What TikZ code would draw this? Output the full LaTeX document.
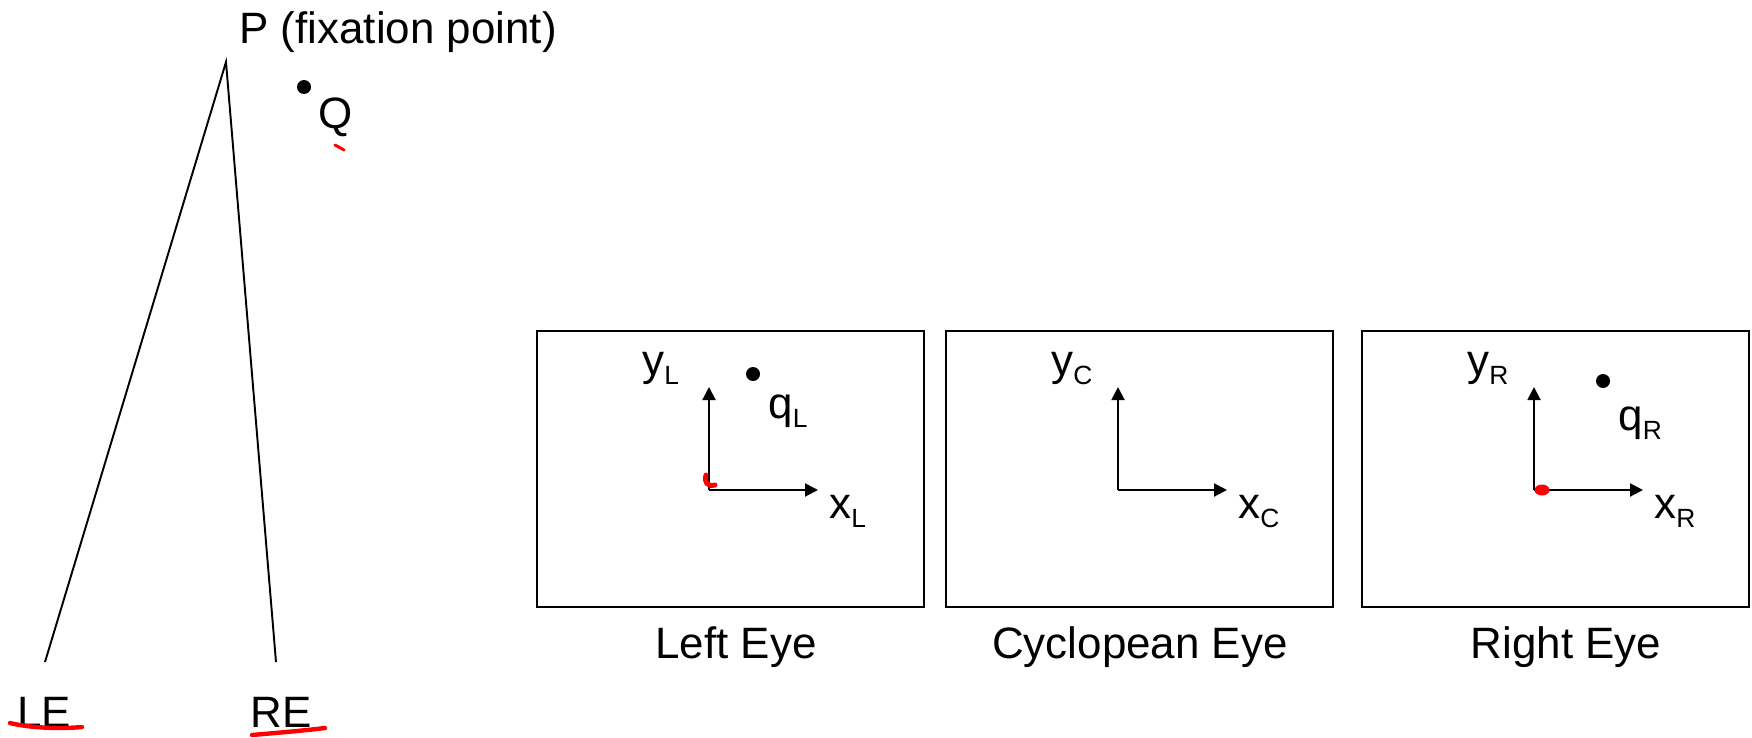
\documentclass[tikz,border=0pt]{standalone}
\usepackage{fontspec}
\setmainfont{Liberation Sans}
\usepackage{xcolor}
\usetikzlibrary{arrows.meta}

\newcommand{\lowsub}[1]{\raisebox{-5.5pt}{\fontsize{15}{17}\selectfont #1}}

\tikzset{
  lbl/.style={inner sep=0pt, anchor=base west, font=\fontsize{25}{30}\selectfont},
  eyename/.style={inner sep=0pt, anchor=base, font=\fontsize{25}{30}\selectfont},
  eyebox/.style={line width=1.1pt},
  axis/.style={line width=1.1pt, -{Triangle[length=7.4pt,width=7.4pt]}},
  scribble/.style={red, line width=2.5pt, line cap=round},
}

\begin{document}
\begin{tikzpicture}[x=0.2mm, y=-0.2mm]
    \useasboundingbox (0,0) rectangle (1752,737);

    % the two eyes looking at P
    \coordinate (apex) at (226,62);
    \coordinate (leEnd) at (45,662);
    \coordinate (reEnd) at (276,662);
    \draw[line width=1.1pt] (leEnd) -- (apex) -- (reEnd);

    \node[lbl] (fix) at (239,43) {P (fixation point)};
    \fill (304,87) circle (1.4mm) coordinate (ptQ);
    \node[lbl] (labQ) at (318,128) {Q};
    \node[lbl] (labLE) at (17,727) {LE};
    \node[lbl] (labRE) at (250,727) {RE};

    % image planes
    \foreach \bx/\s in {537/L,946/C,1362/R}{
        \draw[eyebox] (\bx,331) rectangle ++(387,276);
        \coordinate (o\s) at (\bx+172,490);
        \coordinate (ytip\s) at (\bx+172,387);
        \coordinate (xtip\s) at (\bx+281,490);
        \draw[axis] (o\s) -- (ytip\s);
        \draw[axis] (o\s) -- (xtip\s);
        \node[lbl] (ylab\s) at (\bx+105,375) {y\lowsub{\s}};
        \node[lbl] (xlab\s) at (\bx+292,518) {x\lowsub{\s}};
    }

    % projections of Q
    \fill (753,374) circle (1.4mm) coordinate (qL);
    \node[lbl] (labqL) at (768,418) {q\lowsub{L}};
    \fill (1603,381) circle (1.4mm) coordinate (qR);
    \node[lbl] (labqR) at (1618,430) {q\lowsub{R}};

    % captions
    \node[eyename] (capL) at (736,658) {Left Eye};
    \node[eyename] (capC) at (1140,658) {Cyclopean Eye};
    \node[eyename] (capR) at (1566,658) {Right Eye};

    % red pen marks
    \draw[scribble, line width=1.7pt] (335,145) -- (344,150);
    \draw[scribble] (10,723) .. controls (30,728) and (60,729) .. (82,727);
    \draw[scribble] (252,735) .. controls (275,733) and (300,731) .. (325,728);
    \draw[scribble, line width=2.8pt] (706,475) .. controls (704,482) and (707,487) .. (715,485);
    \fill[red] (1542,490) ellipse (1.5mm and 1.1mm);
\end{tikzpicture}
\end{document}
